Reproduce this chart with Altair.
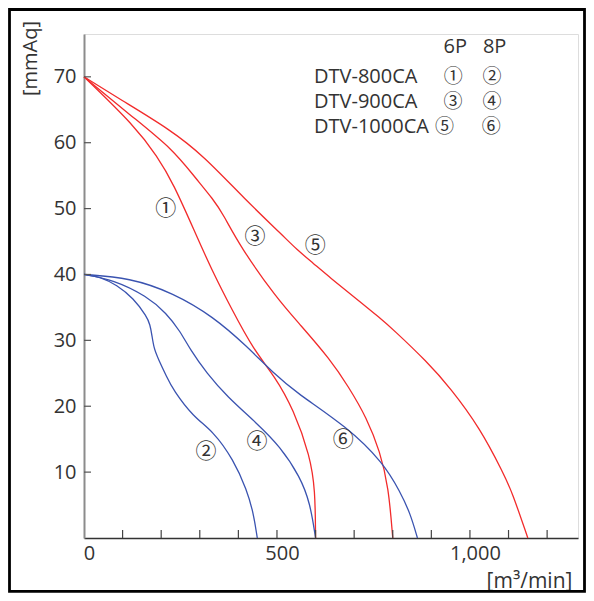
import altair as alt
import pandas as pd

# Curves: 6P (red) and 8P (blue) fan curves, flow [m3/min] vs pressure [mmAq]
c1_x = [0, 132, 190, 231, 292, 335, 383, 439, 495, 543, 586, 599, 600]
c1_y = [70, 62.5, 57.9, 53.9, 45.8, 40.2, 34.7, 28.6, 24.5, 19.5, 12.4, 7.3, 0]

c3_x = [0, 128, 230, 288, 335, 361, 404, 499, 560, 638, 685, 733, 767, 789, 800]
c3_y = [70, 63.8, 59.0, 54.7, 51.4, 49.1, 44.3, 36.4, 32.4, 27.1, 23.0, 18.2, 13.1, 7.8, 0]

c5_x = [0, 93, 223, 310, 417, 517, 551, 594, 638, 702, 767, 802, 888, 949, 1026, 1087, 1109, 1150]
c5_y = [70, 66.6, 62.0, 58.0, 51.4, 45.8, 43.8, 41.7, 39.5, 36.5, 33.4, 31.6, 26.8, 22.8, 16.7, 9.8, 7.0, 0]

c2_x = [0, 41, 85, 128, 163, 171, 176, 181, 193, 214, 231, 283, 335, 387, 422, 439, 449]
c2_y = [40, 39.7, 38.4, 36.4, 33.6, 32.4, 30.8, 28.8, 27.1, 24.5, 22.5, 18.4, 16.2, 11.9, 7.3, 3.8, 0]

c4_x = [0, 76, 163, 214, 249, 275, 318, 370, 448, 508, 560, 586, 600]
c4_y = [40, 39.2, 36.7, 34.1, 31.4, 28.6, 25.0, 21.5, 17.4, 13.9, 9.3, 5.3, 0]

c6_x = [0, 119, 231, 335, 422, 491, 551, 681, 776, 819, 845, 864]
c6_y = [40, 39.5, 37.2, 33.6, 29.1, 25.0, 22.0, 16.9, 11.4, 7.0, 3.8, 0]

curve_ids = ["1", "3", "5", "2", "4", "6"]
curve_xs = [c1_x, c3_x, c5_x, c2_x, c4_x, c6_x]
curve_ys = [c1_y, c3_y, c5_y, c2_y, c4_y, c6_y]
curve_pole = ["6P", "6P", "6P", "8P", "8P", "8P"]

# Curve labels
lab_text = ["①", "③", "⑤", "②", "④", "⑥"]
lab_x = [212, 443, 599, 316, 448, 672]
lab_y = [49.9, 45.7, 44.3, 13.1, 14.6, 14.8]

# Legend table
leg_head = ["6P", "8P"]
leg_head_x = [962, 1064]
leg_head_y = 74.6
leg_models = ["DTV-800CA", "DTV-900CA", "DTV-1000CA"]
leg_rows_y = [70.0, 66.2, 62.4]
leg_6p = ["①", "③", "⑤"]
leg_8p = ["②", "④", "⑥"]
leg_6p_x = [957, 956, 934]
leg_8p_x = [1057, 1057, 1055]
leg_model_x = 596

x_ticks = [100, 200, 300, 400, 500, 600, 700, 800, 900, 1000, 1100, 1200]
y_ticks = [10, 20, 30, 40, 50, 60, 70]

rows = []
for cid, xs, ys, pole in zip(curve_ids, curve_xs, curve_ys, curve_pole):
    for i, (a, b) in enumerate(zip(xs, ys)):
        rows.append({"x": a, "y": b, "curve": cid, "pole": pole, "i": i})
df = pd.DataFrame(rows)

W, H = 494, 504
xs = alt.Scale(domain=[0, 1280], nice=False, zero=False)
ys = alt.Scale(domain=[0, 76.5], nice=False, zero=False)
FONT = "Open Sans"
CFONT = "Noto Sans CJK KR"
TXT = "#333333"
FS = 20

lines = alt.Chart(df).mark_line(strokeWidth=1.3, clip=False, interpolate="basis").encode(
    x=alt.X("x:Q", scale=xs, axis=alt.Axis(
        values=[0, 500, 1000], format=",.0f", ticks=False, tickSize=0, grid=False,
        labelFlush=False, labelOffset=5,
        domainColor="#333333", domainWidth=1.5, labelFontSize=FS, labelFont=FONT,
        labelColor=TXT, labelPadding=5, title="[m³/min]", titleFont=FONT,
        titleFontSize=21, titleFontWeight="normal", titleColor=TXT,
        titleX=445, titleY=43, titleAlign="center", titleBaseline="middle")),
    y=alt.Y("y:Q", scale=ys, axis=alt.Axis(
        values=y_ticks, ticks=False, tickSize=0, grid=False,
        domainColor="#8c8c8c", domainWidth=2, labelFontSize=FS, labelFont=FONT,
        labelColor=TXT, labelPadding=8, title="[mmAq]", titleFont=FONT,
        titleFontSize=20, titleFontWeight="normal", titleColor=TXT,
        titleAngle=270, titleX=-54, titleY=24, titleAlign="center",
        titleBaseline="middle")),
    color=alt.Color("pole:N", scale=alt.Scale(domain=["6P", "8P"],
                                              range=["#f22b2b", "#3a53b0"]), legend=None),
    detail="curve:N",
    order="i:Q",
)

xt = alt.Chart(pd.DataFrame({"t": x_ticks})).mark_rule(color="#444444", strokeWidth=1.2).encode(
    x=alt.X("t:Q", scale=xs), y=alt.value(H), y2=alt.value(H - 8))
yt = alt.Chart(pd.DataFrame({"t": y_ticks})).mark_rule(color="#555555", strokeWidth=1.2).encode(
    y=alt.Y("t:Q", scale=ys), x=alt.value(0), x2=alt.value(7))

labels = alt.Chart(pd.DataFrame({"x": lab_x, "y": lab_y, "t": lab_text})).mark_text(
    font=CFONT, fontSize=21, color=TXT).encode(
    x=alt.X("x:Q", scale=xs), y=alt.Y("y:Q", scale=ys), text="t:N")

head = alt.Chart(pd.DataFrame({"x": leg_head_x, "y": [leg_head_y] * 2, "t": leg_head})).mark_text(
    font=FONT, fontSize=FS, color=TXT).encode(
    x=alt.X("x:Q", scale=xs), y=alt.Y("y:Q", scale=ys), text="t:N")
models = alt.Chart(pd.DataFrame({"x": [leg_model_x] * 3, "y": leg_rows_y, "t": leg_models})).mark_text(
    font=FONT, fontSize=FS, color=TXT, align="left").encode(
    x=alt.X("x:Q", scale=xs), y=alt.Y("y:Q", scale=ys), text="t:N")
circ = alt.Chart(pd.DataFrame({"x": leg_6p_x + leg_8p_x, "y": leg_rows_y * 2,
                               "t": leg_6p + leg_8p})).mark_text(
    font=CFONT, fontSize=19, color=TXT).encode(
    x=alt.X("x:Q", scale=xs), y=alt.Y("y:Q", scale=ys), text="t:N")

frame = alt.Chart(pd.DataFrame({"a": [0]})).mark_rect(
    filled=False, stroke="black", strokeWidth=2.8, fill=None).encode(
    x=alt.value(-74.5), x2=alt.value(500.5), y=alt.value(-24.5), y2=alt.value(557.3))

chart = alt.layer(lines, xt, yt, labels, head, models, circ, frame).properties(
    width=W, height=H, padding={"left": 76, "top": 26, "right": 8, "bottom": 55},
    autosize=alt.AutoSizeParams(type="none"),
).configure_view(stroke=None).configure(background="white")

chart.save("out.html", embed_options={"renderer": "svg", "actions": False})
